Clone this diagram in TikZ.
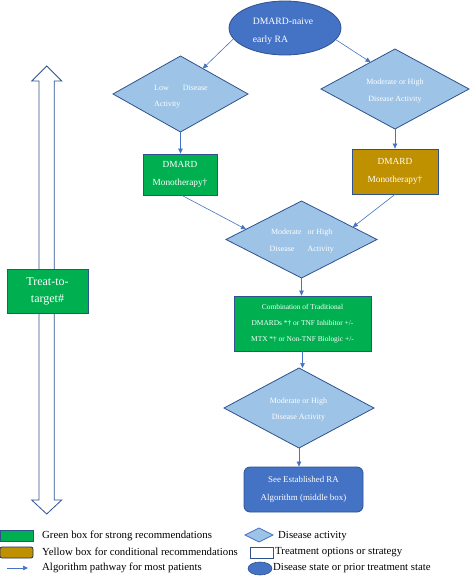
\documentclass[tikz,border=0pt]{standalone}
\usepackage{fontspec}
\setmainfont{Liberation Serif}
\usetikzlibrary{shapes.geometric,arrows.meta,calc}
\definecolor{eblue}{HTML}{4472C4}
\definecolor{oblue}{HTML}{2F528F}
\definecolor{lblue}{HTML}{9DC3E6}
\definecolor{sgreen}{HTML}{00B050}
\definecolor{cyellow}{HTML}{BF9000}
\begin{document}
\begin{tikzpicture}[x=1pt,y=-1pt,
  box/.style={draw=oblue, line width=0.8pt, inner sep=0pt, text=white, align=center},
  dia/.style={shape=diamond, draw=oblue, fill=lblue, line width=0.8pt, inner sep=0pt, outer sep=0pt},
  dtext/.style={text=white, align=center, inner sep=0pt, font=\fontsize{8}{16.5}\selectfont},
  arr/.style={draw=eblue, line width=0.6pt, -{Triangle[length=5pt,width=4.5pt]}},
  legtext/.style={anchor=west, inner sep=0pt, font=\fontsize{10.8}{12}\selectfont}]
\useasboundingbox (0,0) rectangle (474,579);

% double arrow (treat-to-target)
\draw[oblue, line width=0.8pt, fill=white]
  (46.7,66) -- (61.7,81) -- (54.3,81) -- (54.3,500) -- (61.7,500) -- (46.7,514)
  -- (31.7,500) -- (39,500) -- (39,81) -- (31.7,81) -- cycle;
\node[box, fill=sgreen, minimum width=81pt, minimum height=44pt,
      font=\fontsize{12}{17}\selectfont] (tt) at (47.5,291) {Treat-to-\\target\#};

% top ellipse
\node[shape=ellipse, draw=oblue, fill=eblue, line width=0.8pt, inner sep=0pt,
      minimum width=112pt, minimum height=54pt] (e) at (285,28) {};
\node[text=white, align=left, inner sep=0pt, font=\fontsize{9.7}{18}\selectfont]
  (et) at (283,31) {DMARD-naive\\early RA};

% first diamonds
\node[dia, minimum width=135pt, minimum height=76pt] (d1) at (180.5,94) {};
\node[dtext, align=left] (d1t) at (181,96.5) {Low\hspace{14pt}Disease\\Activity};
\node[dia, minimum width=148pt, minimum height=80pt] (d2) at (395,89) {};
\node[dtext] (d2t) at (395,91) {Moderate or High\\Disease Activity};

% monotherapy boxes
\node[box, fill=sgreen, minimum width=74pt, minimum height=41pt,
      font=\fontsize{9.3}{17.6}\selectfont] (g1) at (180,174.5) {DMARD\\Monotherapy†};
\node[box, fill=cyellow, minimum width=86pt, minimum height=45pt,
      font=\fontsize{9.3}{17.6}\selectfont] (y1) at (395,171.5) {DMARD\\Monotherapy†};

% middle diamond
\node[dia, minimum width=151pt, minimum height=77pt] (d3) at (301.5,239.5) {};
\node[dtext] (d3t) at (301.7,241) {Moderate\hspace{6pt}or High\\Disease\hspace{13pt}Activity};

% combination box
\node[box, fill=sgreen, minimum width=137pt, minimum height=55pt,
      font=\fontsize{7.4}{16.3}\selectfont] (c) at (302.5,323.5)
  {Combination of Traditional\\DMARDs *† or TNF Inhibitor +/-\\MTX *† or Non-TNF Biologic +/-};

% lower diamond
\node[dia, minimum width=150pt, minimum height=80pt] (d4) at (299,408) {};
\node[dtext] (d4t) at (298.5,409.7) {Moderate or High\\Disease Activity};

% established RA box
\node[box, fill=eblue, rounded corners=6pt, minimum width=119pt, minimum height=45pt,
      font=\fontsize{8.9}{17.3}\selectfont] (r) at (303.5,489.5)
  {See Established RA\\Algorithm (middle box)};

% connectors
\draw[arr] (e.192) -- ($(d1.north)!0.33!(d1.east)$);
\draw[arr] (e.347) -- ($(d2.north)!0.33!(d2.west)$);
\draw[arr] (d1.south) -- (d1.south |- g1.north);
\draw[arr] (d2.south) -- (d2.south |- y1.north);
\draw[arr] ([xshift=2pt]g1.south) -- ($(d3.north)!0.735!(d3.west)$);
\draw[arr] (y1.south) -- ($(d3.north)!0.68!(d3.east)$);
\draw[arr] (d3.south) -- (d3.south |- c.north);
\draw[arr] (c.south) -- (c.south |- d4.north);
\draw[arr] (d4.south) -- (d4.south |- r.north);

% legend
\node[draw=oblue, fill=sgreen, line width=0.8pt, minimum width=33pt, minimum height=11pt,
      inner sep=0pt] (lg) at (16.5,535.5) {};
\node[legtext] (lgt) at (42,536) {Green box for strong recommendations};
\node[draw=oblue!60!black, fill=cyellow, line width=0.8pt, rounded corners=2pt,
      minimum width=33pt, minimum height=11pt, inner sep=0pt] (ly) at (16.5,552.5) {};
\node[legtext] (lyt) at (42,552) {Yellow box for conditional recommendations};
\coordinate (la1) at (7,568);
\coordinate (la2) at (28,568);
\draw[arr] (la1) -- (la2);
\node[legtext] (lat) at (42,568) {Algorithm pathway for most patients};

\node[dia, minimum width=28pt, minimum height=14pt, draw=eblue] (ld) at (259,535) {};
\node[legtext] (ldt) at (278,536) {Disease activity};
\node[draw=oblue, fill=white, line width=0.8pt, minimum width=23pt, minimum height=11pt,
      inner sep=0pt] (lr) at (261.5,552.5) {};
\node[legtext] (lrt) at (275,552) {Treatment options or strategy};
\node[shape=ellipse, draw=oblue, fill=eblue, line width=0.6pt, inner sep=0pt,
      minimum width=24pt, minimum height=13pt] (le) at (260,568.5) {};
\node[legtext] (let) at (273,568) {Disease state or prior treatment state};
\end{tikzpicture}
\end{document}
